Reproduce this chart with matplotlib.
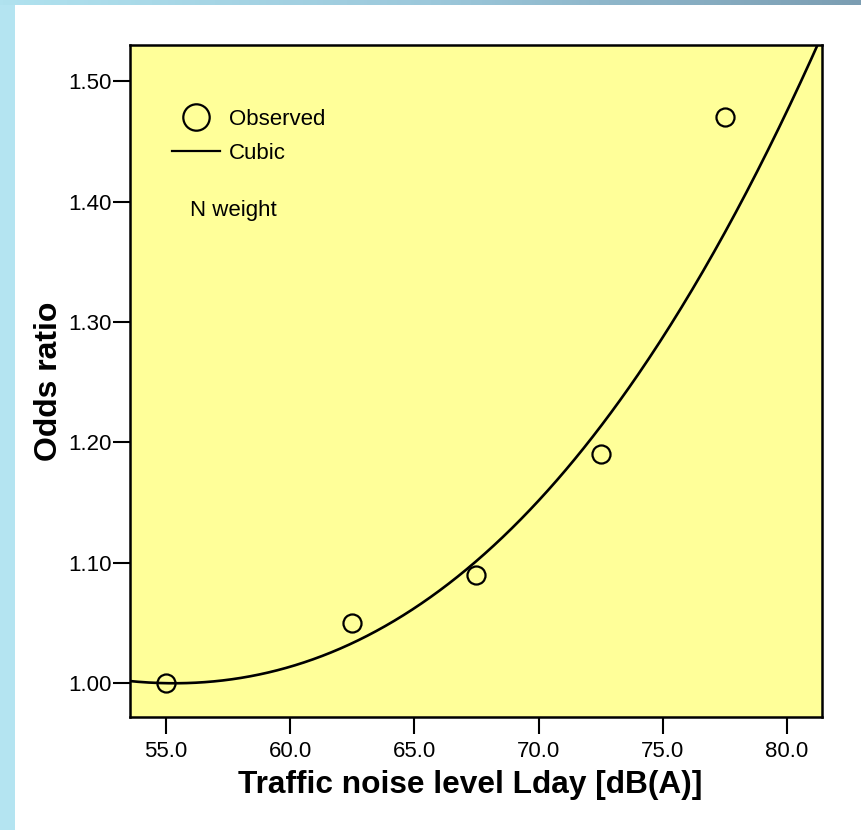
import numpy as np
import matplotlib
matplotlib.use("Agg")
import matplotlib.pyplot as plt
from matplotlib.lines import Line2D
from matplotlib.colors import LinearSegmentedColormap

plt.rcParams['font.family'] = ['Liberation Sans', 'DejaVu Sans']

# observed odds ratios per noise band
noise_level = [55.0, 62.5, 67.5, 72.5, 77.5]
odds_ratio = [1.00, 1.05, 1.09, 1.19, 1.47]

# points along the weighted cubic fit
fit_x = [53.55, 55.0, 59.0, 62.5, 66.9, 67.5, 72.5, 74.08, 77.5, 81.26]
fit_y = [1.002, 1.000, 1.0066, 1.033, 1.096, 1.1007, 1.2085, 1.257, 1.379, 1.530]

x_ticks = [55.0, 60.0, 65.0, 70.0, 75.0, 80.0]
y_ticks = [1.00, 1.10, 1.20, 1.30, 1.40, 1.50]

fig = plt.figure(figsize=(8.62, 8.30), dpi=100, facecolor='white')

# slide frame: light blue strip on the left, gradient strip on top
side = fig.add_axes([0, 0, 15 / 862, 1])
side.set_axis_off()
side.add_patch(plt.Rectangle((0, 0), 1, 1, color='#b4e4f1', transform=side.transAxes))
top = fig.add_axes([0, 1 - 5 / 830, 1, 5 / 830])
top.set_axis_off()
grad = np.linspace(0, 1, 256)[None, :]
cmap = LinearSegmentedColormap.from_list('band', ['#b0e2ef', '#9cc8db', '#7b9db2'])
top.imshow(grad, aspect='auto', cmap=cmap, extent=[0, 1, 0, 1])

ax = fig.add_axes([130 / 862, 1 - 717 / 830, 692 / 862, 672 / 830])
ax.set_facecolor('#ffff99')

coef = np.polyfit(fit_x, fit_y, 3)
xs = np.linspace(53.0, 82.0, 400)
ax.plot(xs, np.polyval(coef, xs), color='black', lw=1.9, zorder=2)
ax.plot(noise_level, odds_ratio, 'o', ms=13, mfc='none', mec='black', mew=1.6, zorder=3)

ax.set_xlim(53.55, 81.41)
ax.set_ylim(0.9718, 1.530)
ax.set_xticks(x_ticks)
ax.set_xticklabels([f'{v:.1f}' for v in x_ticks])
ax.set_yticks(y_ticks)
ax.set_yticklabels([f'{v:.2f}' for v in y_ticks])
ax.tick_params(axis='both', direction='out', length=12, width=1.5, labelsize=16, color='black')
ax.tick_params(axis='x', pad=5)
ax.tick_params(axis='y', pad=1)
for s in ax.spines.values():
    s.set_linewidth(1.8)

ax.set_xlabel('Traffic noise level Lday [dB(A)]', fontsize=22.8, fontweight='bold',
              labelpad=6, x=0.491)
ax.set_ylabel('Odds ratio', fontsize=23, fontweight='bold', labelpad=3)

handles = [
    Line2D([], [], marker='o', ls='none', ms=19, mfc='none', mec='black', mew=1.6),
    Line2D([], [], color='black', lw=1.6),
]
ax.legend(handles, ['Observed', 'Cubic'], loc='upper left', frameon=False,
          bbox_to_anchor=(0.06, 0.905), borderpad=0, borderaxespad=0,
          fontsize=16, handlelength=2.2, handletextpad=0.4, labelspacing=0.6)

ax.text(0.0867, 0.754, 'N weight', transform=ax.transAxes, fontsize=16,
        va='center', ha='left')

fig.savefig('out.png', dpi=100, facecolor='white')
